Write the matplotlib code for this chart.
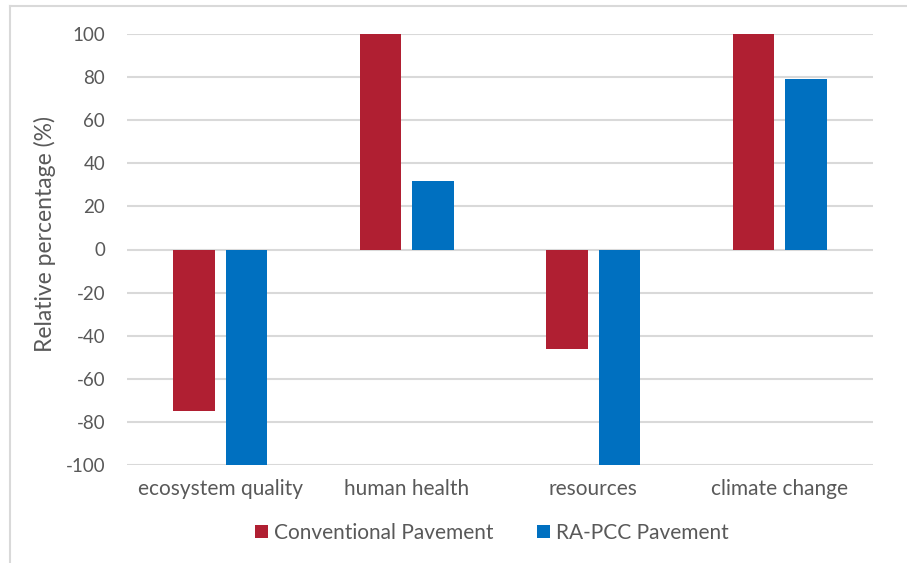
import matplotlib.pyplot as plt
import numpy as np
from matplotlib.lines import Line2D

categories = ["ecosystem quality", "human health", "resources", "climate change"]
conventional = [-75, 100, -46, 100]
ra_pcc = [-100, 32, -100, 79]
series_names = ["Conventional Pavement", "RA-PCC Pavement"]
yticks = list(range(-100, 101, 20))

red = "#B01F32"
blue = "#0070C0"
text_color = "#595959"
grid_color = "#D9D9D9"

plt.rcParams['font.family'] = ['Lato', 'DejaVu Sans']

W, H = 907, 563
fig = plt.figure(figsize=(W / 100, H / 100), dpi=100)
ax = fig.add_axes([127 / W, 1 - 465 / H, (873 - 127) / W, (465 - 34) / H])

x = np.arange(len(categories))
w = 0.223
off = 0.141
ax.bar(x - off, conventional, w, color=red, label=series_names[0], zorder=3)
ax.bar(x + off, ra_pcc, w, color=blue, label=series_names[1], zorder=3)

ax.set_xlim(-0.5, len(categories) - 0.5)
ax.set_ylim(-100, 100)
ax.set_yticks(yticks)
ax.set_yticklabels([str(v) for v in yticks])
ax.set_xticks(x)
ax.set_xticklabels(categories, fontsize=15)
ax.tick_params(axis='both', length=0, colors=text_color)
ax.tick_params(axis='y', pad=15.8, labelsize=13.5)
ax.tick_params(axis='x', pad=10.4)
ax.yaxis.grid(True, color=grid_color, linewidth=1.5, zorder=0)
for s in ax.spines.values():
    s.set_visible(False)
ax.set_ylabel("Relative percentage (%)", color=text_color, fontsize=16.5)
ax.yaxis.set_label_coords((56 - 127) / 746, (465 - 234) / 431)

fig.legend(*ax.get_legend_handles_labels(), loc='center',
           bbox_to_anchor=(492 / W, 1 - 533 / H), ncol=2, frameon=False,
           fontsize=15, labelcolor=text_color, handlelength=0.6, handleheight=0.6,
           handletextpad=0.3, columnspacing=2.1)

# light outline along the left and top of the chart area
fig.add_artist(Line2D([10 / W, 10 / W], [0, 1 - 6 / H], transform=fig.transFigure,
                      color=grid_color, linewidth=1.5))
fig.add_artist(Line2D([10 / W, 1], [1 - 6 / H, 1 - 6 / H], transform=fig.transFigure,
                      color=grid_color, linewidth=1.5))

fig.savefig("out.png", dpi=100)
